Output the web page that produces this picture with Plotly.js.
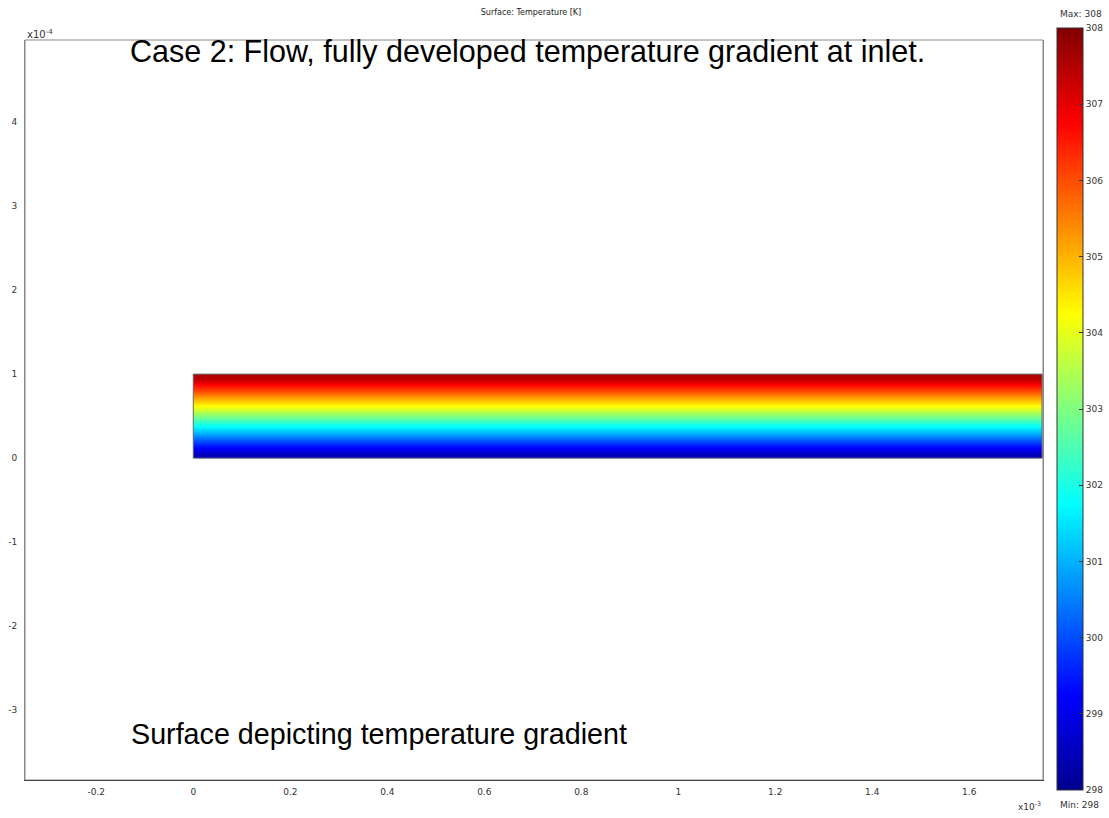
<!DOCTYPE html>
<html>
<head>
<meta charset="utf-8">
<script src="https://cdn.plot.ly/plotly-3.0.1.min.js"></script>
<style>html,body{margin:0;padding:0;background:#fff;}#chart{width:1109px;height:818px;}</style>
</head>
<body>
<div id="chart"></div>
<script>
// Domain of the channel (m)
const channelX = [0, 0.875e-3, 1.75e-3];
// Band edges across channel height (m)
const channelYEdges = [0, 0.1e-4, 0.2e-4, 0.3e-4, 0.4e-4, 0.5e-4, 0.6e-4, 0.7e-4, 0.8e-4, 0.9e-4, 1.0e-4];
// Temperature in each band (K), bottom to top
const bandTemps = [298.5, 299.5, 300.5, 301.5, 302.5, 303.5, 304.5, 305.5, 306.5, 307.5];
// Colour range
const tMin = 298, tMax = 308;
// Tick values/labels
const xTickVals = [-0.2e-3, 0, 0.2e-3, 0.4e-3, 0.6e-3, 0.8e-3, 1.0e-3, 1.2e-3, 1.4e-3, 1.6e-3];
const xTickText = ['-0.2', '0', '0.2', '0.4', '0.6', '0.8', '1', '1.2', '1.4', '1.6'];
const yTickVals = [-3e-4, -2e-4, -1e-4, 0, 1e-4, 2e-4, 3e-4, 4e-4, 5e-4];
const yTickText = ['-3', '-2', '-1', '0', '1', '2', '3', '4', '5'];
const cbTickVals = [298, 299, 300, 301, 302, 303, 304, 305, 306, 307, 308];
const cbTickText = ['298', '299', '300', '301', '302', '303', '304', '305', '306', '307', '308'];

const z = bandTemps.map(t => channelX.slice(0, -1).map(() => t));

const jet = [
  [0, 'rgb(0,0,143)'], [0.125, 'rgb(0,0,255)'], [0.375, 'rgb(0,255,255)'],
  [0.625, 'rgb(255,255,0)'], [0.875, 'rgb(255,0,0)'], [1, 'rgb(128,0,0)']
];

const tickFont = {family: 'DejaVu Sans', size: 9, color: '#333'};

const heat = {
  type: 'heatmap',
  x: channelX,
  y: channelYEdges,
  z: z,
  zmin: tMin, zmax: tMax,
  zsmooth: 'best',
  colorscale: jet,
  hoverinfo: 'skip',
  colorbar: {
    thicknessmode: 'pixels', thickness: 26,
    lenmode: 'pixels', len: 762,
    x: (1057 - 25) / 1018, xanchor: 'left',
    y: 1 + 12 / 740, yanchor: 'top',
    xpad: 0, ypad: 0,
    outlinewidth: 1, outlinecolor: '#333',
    ticks: 'inside', ticklen: 4, tickcolor: '#333',
    tickvals: cbTickVals, ticktext: cbTickText,
    tickfont: tickFont
  }
};

const x0 = channelX[0], x1 = channelX[channelX.length - 1];
const y0 = channelYEdges[0], y1 = channelYEdges[channelYEdges.length - 1];
const outline = {
  type: 'scatter', mode: 'lines',
  x: [x0, x1, x1, x0, x0], y: [y0, y0, y1, y1, y0],
  line: {color: '#666', width: 1},
  hoverinfo: 'skip', showlegend: false
};

const layout = {
  width: 1109, height: 818,
  margin: {l: 25, r: 66, t: 40, b: 38, autoexpand: false},
  paper_bgcolor: '#fff', plot_bgcolor: '#fff',
  showlegend: false,
  title: {
    text: 'Surface: Temperature [K]',
    font: {family: 'DejaVu Sans', size: 8, color: '#222'},
    x: (531) / 1109, xanchor: 'center',
    yref: 'container', y: 1 - 12 / 818, yanchor: 'middle'
  },
  xaxis: {
    range: [-0.347e-3, 1.752e-3],
    tickvals: xTickVals, ticktext: xTickText,
    tickfont: tickFont,
    ticks: '', showgrid: false, zeroline: false,
    showline: true, linecolor: '#444', linewidth: 1,
    ticklabelstandoff: 3
  },
  yaxis: {
    range: [-3.83e-4, 4.976e-4],
    tickvals: yTickVals, ticktext: yTickText,
    tickfont: tickFont,
    ticks: '', showgrid: false, zeroline: false,
    showline: true, linecolor: '#888', linewidth: 1, mirror: true,
    ticklabelstandoff: 5
  },
  shapes: [{
    type: 'rect', xref: 'paper', yref: 'paper', x0: 0, x1: 1, y0: 0, y1: 1,
    line: {color: '#888', width: 1}, layer: 'below'
  }],
  annotations: [
    {text: 'Case 2: Flow, fully developed temperature gradient at inlet.',
     xref: 'paper', yref: 'paper', x: (128 - 25) / 1018, y: (780 - 52) / 740,
     xanchor: 'left', yanchor: 'middle', showarrow: false,
     font: {family: 'Liberation Sans', size: 30.5, color: '#000'}},
    {text: 'Surface depicting temperature gradient',
     xref: 'paper', yref: 'paper', x: (129 - 25) / 1018, y: (780 - 734) / 740,
     xanchor: 'left', yanchor: 'middle', showarrow: false,
     font: {family: 'Liberation Sans', size: 28.7, color: '#000'}},
    {text: 'x10<sup>-4</sup>', xref: 'paper', yref: 'paper', x: 0, y: 1,
     xanchor: 'left', yanchor: 'bottom', yshift: -2, showarrow: false,
     font: {family: 'DejaVu Sans', size: 10, color: '#333'}},
    {text: 'x10<sup>-3</sup>', xref: 'paper', yref: 'paper', x: (1016 - 25) / 1018, y: -(806 - 780) / 740,
     xanchor: 'left', yanchor: 'middle', showarrow: false,
     font: tickFont},
    {text: 'Max: 308', xref: 'paper', yref: 'paper', x: (1058 - 25) / 1018, y: 1 + 26 / 740,
     xanchor: 'left', yanchor: 'middle', showarrow: false,
     font: tickFont},
    {text: 'Min: 298', xref: 'paper', yref: 'paper', x: (1058 - 25) / 1018, y: -(805 - 780) / 740,
     xanchor: 'left', yanchor: 'middle', showarrow: false,
     font: tickFont}
  ]
};

Plotly.newPlot('chart', [heat, outline], layout, {displayModeBar: false, staticPlot: true});
</script>
</body>
</html>
